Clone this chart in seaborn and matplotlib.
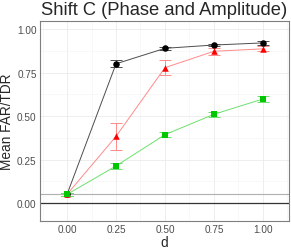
import matplotlib
matplotlib.use("Agg")
import matplotlib.pyplot as plt
import seaborn as sns
import pandas as pd
from matplotlib.ticker import MultipleLocator

d_vals = [0.0, 0.25, 0.5, 0.75, 1.0]
black_mean = [0.05, 0.80, 0.889, 0.908, 0.92]
black_err = [0.01, 0.02, 0.008, 0.008, 0.01]
red_mean = [0.05, 0.383, 0.778, 0.872, 0.886]
red_err = [0.01, 0.077, 0.045, 0.02, 0.015]
green_mean = [0.05, 0.213, 0.393, 0.51, 0.598]
green_err = [0.01, 0.018, 0.015, 0.015, 0.015]
tick_labels = ["0.00", "0.25", "0.50", "0.75", "1.00"]

series = {"A": (black_mean, black_err), "B": (red_mean, red_err), "C": (green_mean, green_err)}
colors = {"A": "black", "B": "#ff0000", "C": "#00c800"}
line_colors = {"A": "#4d4d4d", "B": "#ff8a8a", "C": "#6ee06e"}
markers = {"A": "o", "B": "^", "C": "s"}

rows = []
for name, (m, e) in series.items():
    for x, y, err in zip(d_vals, m, e):
        rows.append({"d": x, "val": y, "err": err, "grp": name})
df = pd.DataFrame(rows)

sns.set_style("whitegrid")
plt.rcParams['font.family'] = ['Liberation Sans', 'DejaVu Sans']

fig, ax = plt.subplots(figsize=(2.91, 2.51), dpi=100)
fig.subplots_adjust(left=0.1375, right=0.993, bottom=0.1155, top=0.9124)

ax.axhline(0.05, color="#b0b0b0", lw=0.8, zorder=1)
ax.axhline(0.0, color="#333333", lw=0.9, zorder=1)

for name in series:
    sub = df[df["grp"] == name]
    ax.errorbar(sub["d"], sub["val"], yerr=sub["err"], fmt="none",
                ecolor=line_colors[name], elinewidth=0.7, capsize=4, capthick=0.7, zorder=2)
    sns.lineplot(data=sub, x="d", y="val", ax=ax, color=line_colors[name], lw=0.7,
                 legend=False, zorder=3)
    ax.scatter(sub["d"], sub["val"], marker=markers[name], color=colors[name],
               s=22, zorder=4, linewidths=0)

ax.set_xlim(-0.138, 1.133)
ax.set_ylim(-0.103, 1.046)
ax.set_xticks(d_vals)
ax.set_yticks(d_vals)
ax.set_xticklabels(tick_labels)
ax.set_yticklabels(tick_labels)
ax.xaxis.set_minor_locator(MultipleLocator(0.125))
ax.yaxis.set_minor_locator(MultipleLocator(0.125))
ax.grid(which="major", color="#ebebeb", lw=0.6)
ax.grid(which="minor", color="#f4f4f4", lw=0.4)
ax.tick_params(axis="both", which="major", labelsize=7.2, labelcolor="#4d4d4d",
               length=1.6, color="#333333", pad=0.8)
ax.tick_params(which="minor", length=0)
for s in ax.spines.values():
    s.set_color("#7f7f7f")
    s.set_linewidth(0.8)

ax.set_xlabel("d", fontsize=9.8, labelpad=0.5)
ax.set_ylabel("Mean FAR/TDR", fontsize=9.8, labelpad=2.5)
ax.set_title("Shift C (Phase and Amplitude)", fontsize=13.2, pad=5)

fig.savefig("out.png", dpi=100)
